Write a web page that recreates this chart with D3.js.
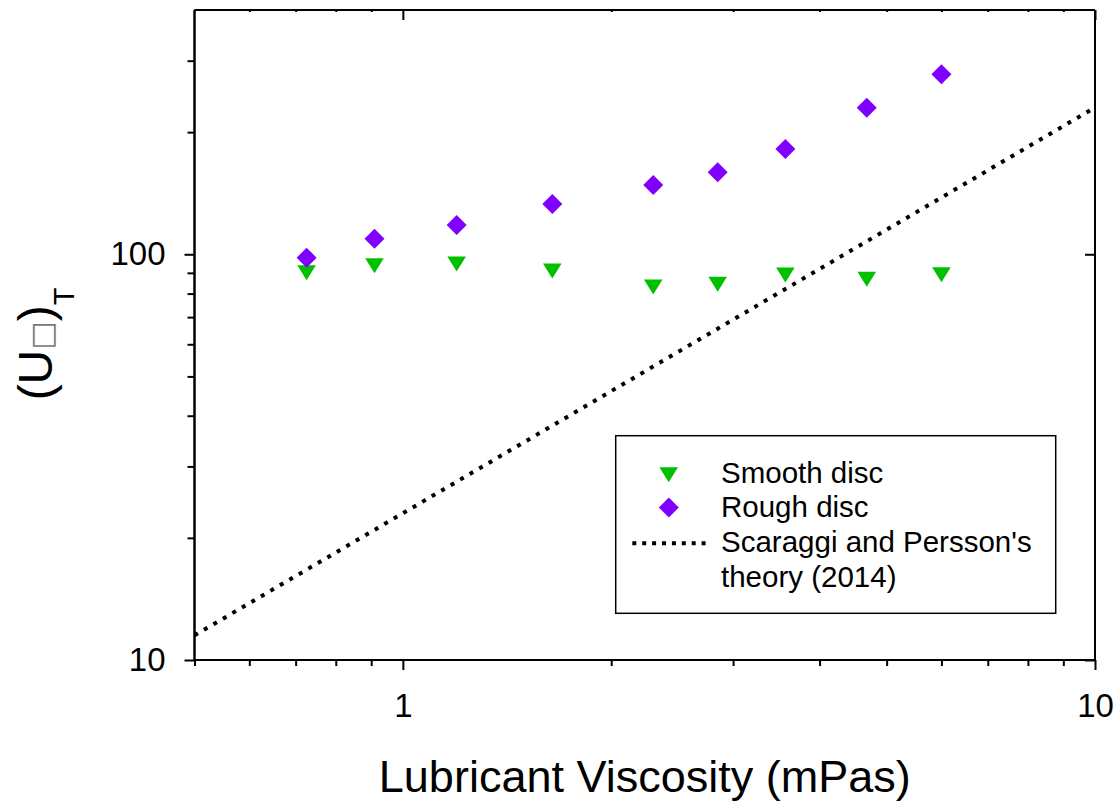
<!DOCTYPE html>
<html>
<head>
<meta charset="utf-8">
<script src="https://cdn.jsdelivr.net/npm/d3@7"></script>
<style>
  html, body { margin: 0; padding: 0; background: #fff; }
  svg { display: block; font-family: "Liberation Sans", Arial, sans-serif; }
</style>
</head>
<body>
<svg id="chart" width="1120" height="807"></svg>
<script>
// ---- data ----
const viscosity = [0.726, 0.91, 1.196, 1.644, 2.30, 2.85, 3.57, 4.68, 6.00];
const smoothDisc = [90.1, 93.7, 94.6, 90.9, 83.0, 84.3, 88.9, 86.8, 89.0];
const roughDisc = [98.1, 109.2, 118.0, 133.0, 148.2, 159.2, 181.7, 229.7, 277.6];
const theoryX = [0.5, 10];
const theoryY = [11.5, 230];
const xTickLabels = ["1", "10"];
const yTickLabels = ["10", "100"];
const legendLabels = ["Smooth disc", "Rough disc", "Scaraggi and Persson's", "theory (2014)"];

(function () {
// ---- layout ----
const svg = d3.select("#chart");
const pL = 194.5, pT = 10, pR = 1095, pB = 660;
const x = d3.scaleLog().domain([0.5, 10]).range([pL, pR]);
const y = d3.scaleLog().domain([10, 400]).range([pB, pT]);

const green = "#00c000";
const purple = "#8000ff";

const xMinor = [0.5,0.6,0.7,0.8,0.9,2,3,4,5,6,7,8,9];
const xMajor = [1, 10];
const yMinor = [20,30,40,50,60,70,80,90,200,300];
const yMajor = [10, 100];

const axisG = svg.append("g");
const bAxis = axisG.append("g").attr("transform", `translate(0,${pB})`);
bAxis.call(d3.axisBottom(x).tickValues(xMinor).tickSize(6).tickFormat(""));
bAxis.append("g").call(d3.axisBottom(x).tickValues(xMajor).tickSize(10)
  .tickFormat((d, i) => xTickLabels[i]).tickPadding(24));
const lAxis = axisG.append("g").attr("transform", `translate(${pL},0)`);
lAxis.call(d3.axisLeft(y).tickValues(yMinor).tickSize(7).tickFormat(""));
lAxis.append("g").call(d3.axisLeft(y).tickValues(yMajor).tickSize(10)
  .tickFormat((d, i) => yTickLabels[i]).tickPadding(19));
const tAxis = axisG.append("g").attr("transform", `translate(0,${pT})`);
tAxis.call(d3.axisBottom(x).tickValues(xMinor).tickSize(2).tickFormat(""));
tAxis.append("g").call(d3.axisBottom(x).tickValues(xMajor).tickSize(10).tickFormat(""));
const rAxis = axisG.append("g").attr("transform", `translate(${pR},0)`);
rAxis.call(d3.axisLeft(y).tickValues(yMajor).tickSize(10).tickFormat(""));

axisG.selectAll(".domain").attr("stroke", "#000").attr("stroke-width", 2);
axisG.selectAll(".tick line").attr("stroke", "#000").attr("stroke-width", 2);
axisG.selectAll(".tick text").attr("fill", "#000").attr("font-size", 33)
  .attr("font-family", "'Liberation Sans', Arial, sans-serif");
bAxis.selectAll(".domain").attr("d", `M${pL},0H${pR}`);
tAxis.selectAll(".domain").attr("d", `M${pL},0H${pR}`);
lAxis.selectAll(".domain").attr("d", `M0,${pB}V${pT}`);
rAxis.selectAll(".domain").attr("d", `M0,${pB}V${pT}`);

svg.append("clipPath").attr("id", "plotclip").append("rect")
  .attr("x", pL).attr("y", pT).attr("width", pR - pL).attr("height", pB - pT);
const line = d3.line().x(d => x(d[0])).y(d => y(d[1]));
svg.append("path")
  .datum(theoryX.map((v, i) => [v, theoryY[i]]))
  .attr("d", line)
  .attr("fill", "none").attr("stroke", "#000").attr("stroke-width", 4)
  .attr("stroke-dasharray", "4,7").attr("clip-path", "url(#plotclip)");

const tri = (cx, cy) => `M${cx-9.3},${cy-7.5}L${cx+9.3},${cy-7.5}L${cx},${cy+7.5}Z`;
const dia = (cx, cy) => `M${cx},${cy-10}L${cx+10},${cy}L${cx},${cy+10}L${cx-10},${cy}Z`;

svg.append("g").selectAll("path").data(viscosity).join("path")
  .attr("d", (d, i) => tri(x(d), y(smoothDisc[i]))).attr("fill", green);
svg.append("g").selectAll("path").data(viscosity).join("path")
  .attr("d", (d, i) => dia(x(d), y(roughDisc[i]))).attr("fill", purple);

const lg = svg.append("g");
lg.append("rect").attr("x", 615.7).attr("y", 435.7).attr("width", 440).attr("height", 177.6)
  .attr("fill", "#fff").attr("stroke", "#000").attr("stroke-width", 1.5);
lg.append("path").attr("d", tri(668.7, 474.8)).attr("fill", green);
lg.append("path").attr("d", dia(668.8, 507.5)).attr("fill", purple);
lg.append("line").attr("x1", 632.3).attr("x2", 706).attr("y1", 543.3).attr("y2", 543.3)
  .attr("stroke", "#000").attr("stroke-width", 4).attr("stroke-dasharray", "4,5.9");
const lyBase = [483.3, 516.7, 551.7, 586.7];
lg.selectAll("text").data(legendLabels).join("text")
  .attr("x", 721).attr("y", (d, i) => lyBase[i])
  .attr("font-size", 29.5).attr("fill", "#000").text(d => d);

svg.append("text").attr("x", (pL + pR) / 2).attr("y", 791.7)
  .attr("text-anchor", "middle").attr("font-size", 45).attr("fill", "#000")
  .text("Lubricant Viscosity (mPas)");

const yt = svg.append("text").attr("transform", "translate(52,344) rotate(-90)")
  .attr("text-anchor", "middle").attr("font-size", 48).attr("fill", "#000");
yt.append("tspan").text("(U");
yt.append("tspan").attr("font-size", 30).attr("fill", "#777").attr("font-family", "DejaVu Sans").text("□");
yt.append("tspan").text(")");
yt.append("tspan").attr("font-size", 29).attr("dy", 22).text("T");
})();
</script>
</body>
</html>
